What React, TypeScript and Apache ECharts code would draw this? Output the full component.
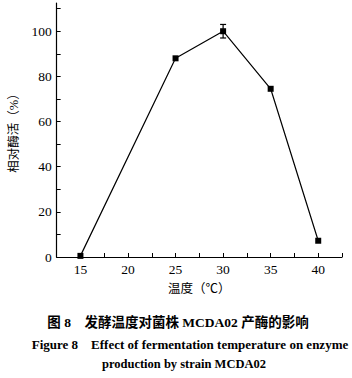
import React, { useEffect, useRef } from "react";
import * as echarts from "echarts";

const temperatures = [15, 25, 30, 35, 40];
const activity = [0.5, 88, 100, 74.5, 7.2];
const errorBars = [
  { x: 30, low: 97, high: 103 },
];
const yTicks = [0, 10, 20, 30, 40, 50, 60, 70, 80, 90, 100, 110];
const yLabels = [0, 20, 40, 60, 80, 100];
const xLabels = [15, 20, 25, 30, 35, 40];

const yTitle = "相对酶活（%）";
const xTitle = "温度（℃）";
const caption1 = "图 8    发酵温度对菌株 MCDA02 产酶的影响";
const caption2 = "Figure 8    Effect of fermentation temperature on enzyme";
const caption3 = "production by strain MCDA02";

const FONT = "'Liberation Serif', 'Noto Sans CJK SC', serif";

export default function App() {
  const ref = useRef<HTMLDivElement>(null);
  useEffect(() => {
    if (!ref.current) return;
    const chart = echarts.init(ref.current, null, { renderer: "svg" });
    const cap = (text: string, x: number, y: number, size: number) => ({
      type: "text",
      x,
      y,
      style: {
        text,
        fontFamily: FONT,
        fontWeight: "bold",
        fontSize: size,
        fill: "#000",
        textAlign: "center",
        textVerticalAlign: "middle",
      },
    });
    chart.setOption({
      animation: false,
      backgroundColor: "#fff",
      grid: { left: 52, right: 10, top: 3, bottom: 121, containLabel: false },
      xAxis: {
        type: "value",
        min: 12.5,
        max: 42.5,
        interval: 2.5,
        splitLine: { show: false },
        axisLine: { lineStyle: { color: "#000", width: 1.2 } },
        axisTick: { inside: true, length: 4, lineStyle: { color: "#000" } },
        axisLabel: {
          customValues: xLabels,
          color: "#000",
          fontFamily: FONT,
          fontSize: 13.5,
          margin: 6,
        },
        name: xTitle,
        nameLocation: "middle",
        nameGap: 26,
        nameTextStyle: { color: "#000", fontFamily: FONT, fontSize: 12.5 },
      },
      yAxis: {
        type: "value",
        min: 0,
        max: 112.5,
        splitLine: { show: false },
        axisLine: { lineStyle: { color: "#000", width: 1.2 } },
        axisTick: {
          inside: true,
          length: 4,
          customValues: yTicks,
          lineStyle: { color: "#000" },
        },
        axisLabel: {
          customValues: yLabels,
          color: "#000",
          fontFamily: FONT,
          fontSize: 13.5,
          margin: 5,
        },
        name: yTitle,
        nameLocation: "middle",
        nameGap: 33,
        nameRotate: 90,
        nameTextStyle: { color: "#000", fontFamily: FONT, fontSize: 12.5 },
      },
      series: [
        {
          type: "line",
          data: temperatures.map((t, i) => [t, activity[i]]),
          symbol: "rect",
          symbolSize: 6,
          lineStyle: { color: "#000", width: 1.2 },
          itemStyle: { color: "#000" },
          z: 3,
        },
        {
          type: "custom",
          data: errorBars.map((e) => [e.x, e.low, e.high]),
          renderItem: (params: any, api: any) => {
            const x = api.value(0);
            const lo = api.coord([x, api.value(1)]);
            const hi = api.coord([x, api.value(2)]);
            const w = 3;
            const style = { stroke: "#000", lineWidth: 1.2 };
            return {
              type: "group",
              children: [
                { type: "line", shape: { x1: lo[0], y1: lo[1], x2: hi[0], y2: hi[1] }, style },
                { type: "line", shape: { x1: lo[0] - w, y1: lo[1], x2: lo[0] + w, y2: lo[1] }, style },
                { type: "line", shape: { x1: hi[0] - w, y1: hi[1], x2: hi[0] + w, y2: hi[1] }, style },
              ],
            };
          },
          z: 4,
        },
      ],
      graphic: [
        cap(caption1, 178, 322, 13.5),
        cap(caption2, 190, 344, 13),
        cap(caption3, 184, 364, 12.5),
      ],
    });
    return () => chart.dispose();
  }, []);
  return (
    <div
      ref={ref}
      style={{ position: "fixed", left: 0, top: 0, width: 352, height: 378 }}
    />
  );
}
